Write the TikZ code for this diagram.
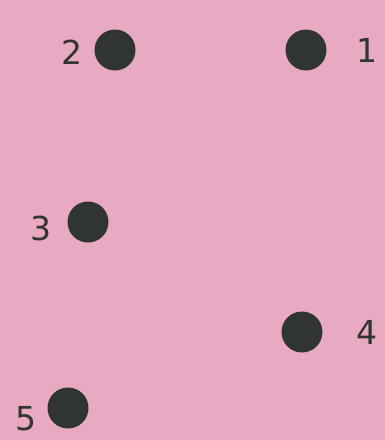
\documentclass[tikz,border=0pt]{standalone}
\usepackage{fontspec}
\setsansfont{DejaVu Sans}
\usepackage{tikz}
\usetikzlibrary{positioning}
\definecolor{paper}{HTML}{E8A9C2}
\definecolor{ink}{HTML}{303433}

\begin{document}
\begin{tikzpicture}[
  x=1pt,y=-1pt,
  node distance=14pt,
  spot/.style={circle,fill=ink,minimum size=41pt,inner sep=0pt},
  num/.style={font=\sffamily\fontsize{33}{35}\selectfont,
              text=ink,inner sep=0pt}
]
\fill[paper] (0,0) rectangle (385,440);
\node[spot] (d1) at (306,50) {};
\node[spot] (d2) at (115,50) {};
\node[spot] (d3) at (88,222) {};
\node[spot] (d4) at (302,332) {};
\node[spot] (d5) at (68,408) {};
\node[num,right=30pt of d1] (n1) {1};
\node[num,left=12pt of d2,yshift=-2pt] (n2) {2};
\node[num,left=16pt of d3,yshift=-6pt] (n3) {3};
\node[num,right=34pt of d4] (n4) {4};
\node[num,left=11pt of d5,yshift=-11pt] (n5) {5};
\end{tikzpicture}
\end{document}
